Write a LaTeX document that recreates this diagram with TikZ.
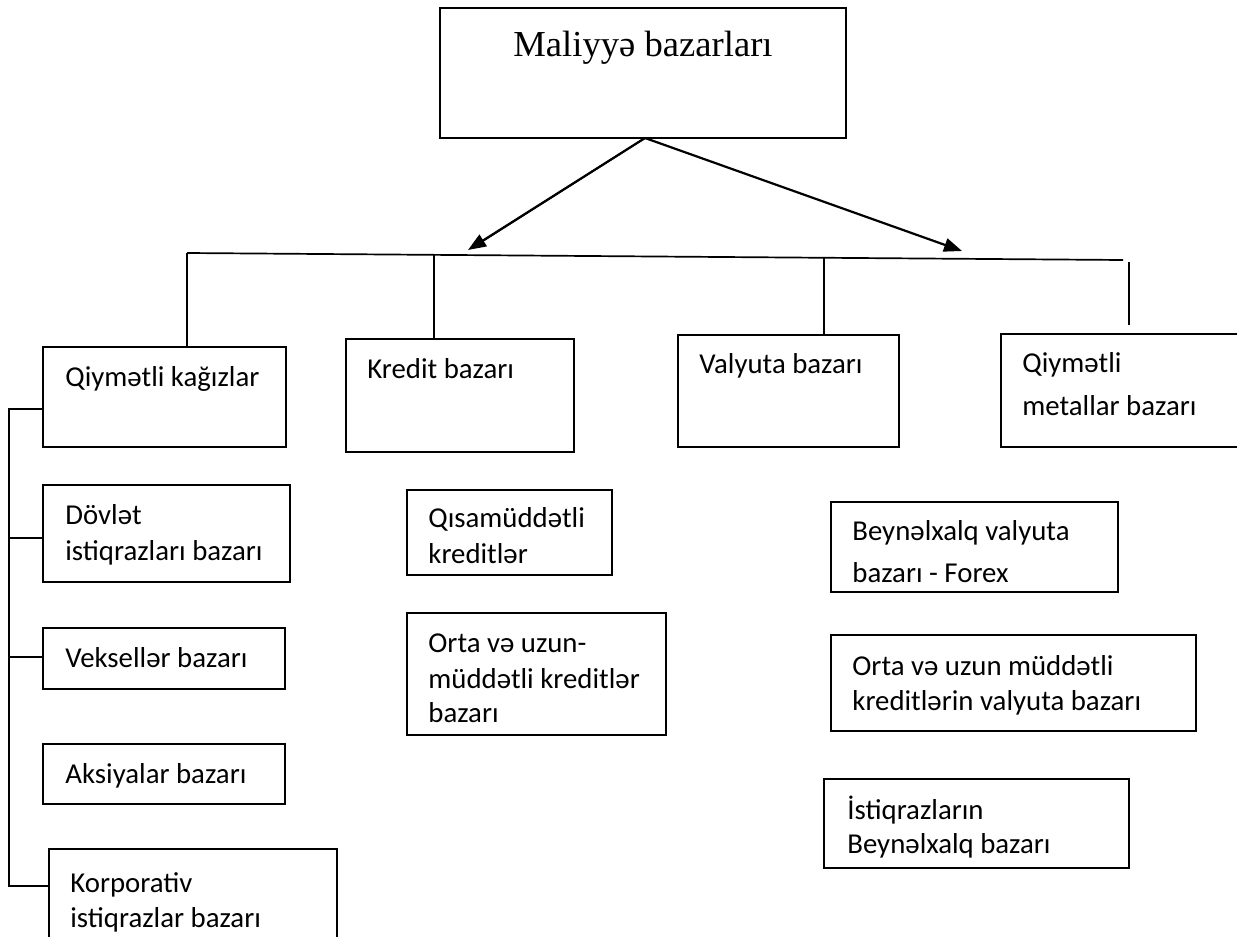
\documentclass[tikz,border=0pt]{standalone}
\usepackage{fontspec}
\setmainfont{Carlito}
\newfontfamily\timesf{Liberation Serif}
\usetikzlibrary{arrows.meta,fit}
\begin{document}
\begin{tikzpicture}[x=0.5pt,y=-0.5pt,
  ln/.style={line width=0.85pt},
  bx/.style={draw, line width=0.8pt, inner sep=0pt},
  txt/.style={anchor=base west, inner sep=0pt, font=\fontsize{14.4}{17}\selectfont},
  arr/.style={line width=1.1pt, -{Triangle[length=9pt,width=6.8pt]}}]
\useasboundingbox (0,0) rectangle (1237,937);
\clip (0,0) rectangle (1237,937);
% top box
\node[bx, fit={(440,8) (846,138)}] (top) {};
\node[anchor=base, inner sep=0pt, font=\timesf\fontsize{18.3}{22}\selectfont] (toptxt) at (643,56) {Maliyyə bazarları};
% second level boxes
\node[bx, fit={(43,347) (286,447)}] (qk) {};
\node[bx, fit={(346,339) (574,452)}] (kb) {};
\node[bx, fit={(678,335) (899,447)}] (vb) {};
\node[bx, fit={(1001,334) (1270,447)}] (qm) {};
% left column
\node[bx, fit={(43,485) (290,582)}] (di) {};
\node[bx, fit={(43,628) (285,689)}] (vk) {};
\node[bx, fit={(43,744) (285,804)}] (ak) {};
\node[bx, fit={(49,849) (337,970)}] (ko) {};
% middle column
\node[bx, fit={(407,490) (612,575)}] (qs) {};
\node[bx, fit={(407,613) (666,735)}] (ou) {};
% right column
\node[bx, fit={(831,502) (1118,592)}] (fx) {};
\node[bx, fit={(831,635) (1196,731)}] (ov) {};
\node[bx, fit={(824,779) (1129,868)}] (ib) {};
% texts
\node[txt] (t1) at (65,386) {Qiymətli kağızlar};
\node[txt] (t2) at (367,378) {Kredit bazarı};
\node[txt] (t3) at (699,373) {Valyuta bazarı};
\node[txt] (t4a) at (1022,372) {Qiymətli};
\node[txt] (t4b) at (1022,415) {metallar bazarı};
\node[txt] (t5a) at (65,524) {Dövlət};
\node[txt] (t5b) at (65,560) {istiqrazları bazarı};
\node[txt] (t6) at (65,667) {Veksellər bazarı};
\node[txt] (t7) at (65,783) {Aksiyalar bazarı};
\node[txt] (t8a) at (70,892) {Korporativ};
\node[txt] (t8b) at (70,927) {istiqrazlar bazarı};
\node[txt] (t9a) at (428,527) {Qısamüddətli};
\node[txt] (t9b) at (428,563) {kreditlər};
\node[txt] (t10a) at (428,652) {Orta və uzun-};
\node[txt] (t10b) at (428,688) {müddətli kreditlər};
\node[txt] (t10c) at (428,722) {bazarı};
\node[txt] (t11a) at (852,540) {Beynəlxalq valyuta};
\node[txt] (t11b) at (852,582) {bazarı - Forex};
\node[txt] (t12a) at (852,675) {Orta və uzun müddətli};
\node[txt] (t12b) at (852,710) {kreditlərin valyuta bazarı};
\node[txt] (t13a) at (847,819) {İstiqrazların};
\node[txt] (t13b) at (847,853) {Beynəlxalq bazarı};
% arrows from top box
\coordinate (apex) at (645,138);
\coordinate (lt) at (468,250);
\coordinate (lt2) at (475,246);
\coordinate (rt) at (962,251);
\draw[arr] (apex) -- (lt);
\draw[ln] (apex) -- (lt2);
\draw[arr] (apex) -- (rt);
% main horizontal line
\coordinate (hl) at (187,253);
\coordinate (hr) at (1123,260);
\draw[ln] (hl) -- (hr);
\coordinate (k1) at (434,254);
\coordinate (v1) at (824,258);
\coordinate (m1) at (1129,262);
\coordinate (m2) at (1129,325);
\draw[ln] (hl) -- (qk.north -| hl);
\draw[ln] (k1) -- (kb.north -| k1);
\draw[ln] (v1) -- (vb.north -| v1);
\draw[ln] (m1) -- (m2);
% left bracket
\coordinate (b1) at (9,409);
\coordinate (b2) at (9,538);
\coordinate (b3) at (9,657);
\coordinate (b4) at (9,886);
\draw[ln] (qk.west |- b1) -- (b1) -- (b4) -- (ko.west |- b4);
\draw[ln] (b2) -- (di.west |- b2);
\draw[ln] (b3) -- (vk.west |- b3);
\end{tikzpicture}
\end{document}
